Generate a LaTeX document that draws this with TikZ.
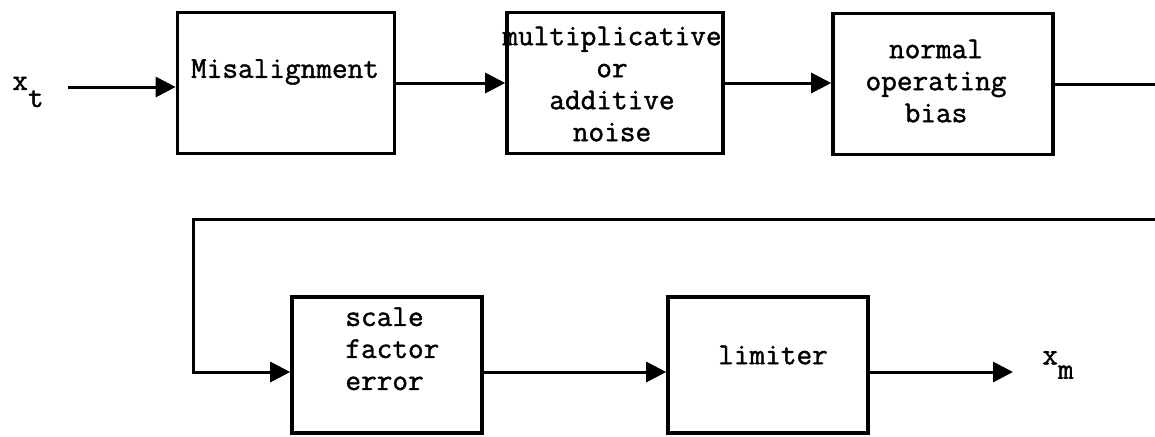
\documentclass[tikz,border=0pt]{standalone}
\usepackage{fontspec}
\newfontfamily\tw[FakeBold=1.3]{Latin Modern Mono}
\usetikzlibrary{arrows.meta}
\tikzset{
  blk/.style={draw, line width=1.8pt, inner sep=0pt},
  lbl/.style={font=\fontsize{15.2}{16}\selectfont\tw, inner sep=0pt, align=center},
  lbll/.style={font=\fontsize{15.2}{16}\selectfont\tw, inner sep=0pt, align=left, anchor=north west},
  arr/.style={line width=1.5pt, -{Triangle[length=10pt,width=10pt]}},
  ln/.style={line width=1.5pt}
}
\begin{document}
\begin{tikzpicture}[x=0.5pt,y=-0.5pt]
\useasboundingbox (0,0) rectangle (1155,436);
% boxes
\node[blk, minimum width=108.5pt, minimum height=70.5pt] (b1) at (286,83) {};
\node[blk, minimum width=108pt, minimum height=70.5pt] (b2) at (615,83) {};
\node[blk, minimum width=110pt, minimum height=70.5pt] (b3) at (943,84) {};
\node[blk, minimum width=95pt, minimum height=68pt] (b4) at (387,365) {};
\node[blk, minimum width=100pt, minimum height=68pt] (b5) at (768,365) {};
% texts
\node[lbl] (t1) at (285,72) {Misalignment};
\node[lbl] (t2) at (612,84) {multiplicative\\or\\additive\\noise};
\node[lbl] (t3) at (936,81) {normal\\operating\\bias};
\node[lbll] (t4) at (345,307) {scale\\factor\\error};
\node[lbl] (t5) at (773,355) {limiter};
\node[lbl] (xt) at (28,92) {x\raisebox{-1.3ex}{t}};
\node[lbl] (xm) at (1058,365) {x\raisebox{-1.1ex}{m}};
% coordinates
\coordinate (xin) at (68,87);
\coordinate (r1) at (1155,84);
\coordinate (r2) at (1155,219);
\coordinate (c) at (193,372);
\coordinate (xout) at (1013,372);
% connectors
\draw[arr] (xin) -- (xin -| b1.west);
\draw[arr] (b1.east) -- (b2.west);
\draw[arr] (b2.east) -- (b2.east -| b3.west);
\draw[ln] (b3.east) -- (r1);
\draw[arr] (r2) -| (c) -- (c -| b4.west);
\draw[arr] (c -| b4.east) -- (c -| b5.west);
\draw[arr] (c -| b5.east) -- (xout);
\end{tikzpicture}
\end{document}
